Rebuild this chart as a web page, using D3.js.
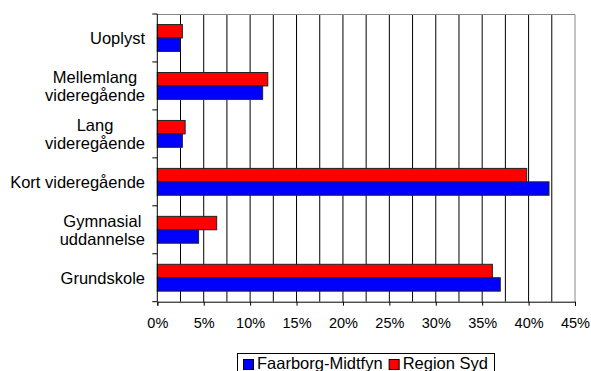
<!DOCTYPE html>
<html>
<head>
<meta charset="utf-8">
<script src="https://cdn.jsdelivr.net/npm/d3@7"></script>
<style>
  html, body { margin: 0; padding: 0; background: #fff; }
  svg { display: block; font-family: Arial, "Liberation Sans", sans-serif; }
</style>
</head>
<body>
<svg id="chart" width="591" height="371"></svg>
<script>
// Education level categories, top to bottom
const categories = [
  ["Uoplyst"],
  ["Mellemlang", "videregående"],
  ["Lang", "videregående"],
  ["Kort videregående"],
  ["Gymnasial", "uddannelse"],
  ["Grundskole"]
];
const seriesNames = ["Region Syd", "Faarborg-Midtfyn"];
const seriesColors = ["#ff0000", "#0000ff"];
// Share of population (%) per category
const regionSyd = [2.7, 11.9, 3.0, 39.8, 6.4, 36.1];
const faarborg = [2.45, 11.35, 2.7, 42.2, 4.45, 36.95];
const xTickValues = [0, 5, 10, 15, 20, 25, 30, 35, 40, 45];
const xGridStep = 2.5;

const svg = d3.select("#chart");
const plotLeft = 157.3, plotRight = 575, plotTop = 14, plotBottom = 301.7;

const keys = categories.map(c => c.join(" "));
const x = d3.scaleLinear().domain([0, 45]).range([plotLeft, plotRight]);
const y = d3.scaleBand().domain(keys).range([plotTop, plotBottom]).paddingInner(0.44).paddingOuter(0.22);
const yOuter = d3.scaleBand().domain(keys).range([plotTop, plotBottom]);
const ySub = d3.scaleBand().domain(seriesNames).range([0, y.bandwidth()]);

// vertical grid lines every 2.5 %
const grid = d3.range(xGridStep, 45, xGridStep);
svg.append("g").selectAll("line").data(grid).join("line")
  .attr("x1", d => x(d)).attr("x2", d => x(d))
  .attr("y1", plotTop).attr("y2", plotBottom)
  .attr("stroke", "#000").attr("stroke-width", 1);

// frame top / right
svg.append("path")
  .attr("d", `M${plotLeft},${plotTop + 0.5}H${plotRight}V${plotBottom}`)
  .attr("fill", "none").attr("stroke", "#888").attr("stroke-width", 1);

// bars
const rows = keys.map((k, i) => ({ key: k, values: [regionSyd[i], faarborg[i]] }));
const gRows = svg.append("g").selectAll("g").data(rows).join("g")
  .attr("transform", d => `translate(0,${y(d.key)})`);
gRows.selectAll("rect").data(d => d.values.map((v, j) => ({ v, s: seriesNames[j], c: seriesColors[j] })))
  .join("rect")
  .attr("x", x(0))
  .attr("y", d => ySub(d.s))
  .attr("width", d => x(d.v) - x(0))
  .attr("height", ySub.bandwidth())
  .attr("fill", d => d.c)
  .attr("stroke", "#222").attr("stroke-width", 1);

// x axis
const xAxis = svg.append("g")
  .attr("transform", `translate(0,${plotBottom})`)
  .call(d3.axisBottom(x).tickValues(xTickValues).tickFormat(d => d + "%").tickSize(4).tickPadding(12.5));
xAxis.select(".domain").attr("stroke", "#000");
xAxis.selectAll(".tick line").attr("stroke", "#000");
xAxis.selectAll(".tick text").attr("font-size", "14.5px").attr("fill", "#000")
  .attr("font-family", "Arial, 'Liberation Sans', sans-serif");

// y axis: boundary ticks between categories
const yAxis = svg.append("g");
yAxis.append("line").attr("x1", plotLeft).attr("x2", plotLeft).attr("y1", plotTop).attr("y2", plotBottom).attr("stroke", "#000");
const bounds = keys.map(k => yOuter(k)).concat([plotBottom]);
yAxis.selectAll("line.b").data(bounds).join("line").attr("class", "b")
  .attr("x1", plotLeft - 5).attr("x2", plotLeft)
  .attr("y1", d => d).attr("y2", d => d)
  .attr("stroke", "#000");

// category labels, centred lines, right edge aligned
const labelRight = 145;
const lineH = 17.6;
categories.forEach((lines, i) => {
  const cy = y(keys[i]) + y.bandwidth() / 2;
  const t = svg.append("text").attr("font-size", "16.5px").attr("fill", "#000").attr("text-anchor", "middle");
  const spans = lines.map((ln, j) => t.append("tspan").text(ln)
    .attr("y", cy + 6 + (j - (lines.length - 1) / 2) * lineH));
  const w = d3.max(spans, s => s.node().getComputedTextLength());
  spans.forEach(s => s.attr("x", labelRight - w / 2));
});

// legend
const lg = svg.append("g");
lg.append("rect").attr("x", 237.5).attr("y", 353.5).attr("width", 257).attr("height", 30)
  .attr("fill", "#fff").attr("stroke", "#000");
const legendOrder = [1, 0];
let lx = 243;
legendOrder.forEach(j => {
  lg.append("rect").attr("x", lx + 0.5).attr("y", 359.5).attr("width", 10).attr("height", 10)
    .attr("fill", seriesColors[j]).attr("stroke", "#000");
  const tx = lg.append("text").attr("x", lx + 14).attr("y", 368.5)
    .attr("font-size", "16.5px").attr("fill", "#000").text(seriesNames[j]);
  lx += 14 + tx.node().getComputedTextLength() + 6;
});
</script>
</body>
</html>
